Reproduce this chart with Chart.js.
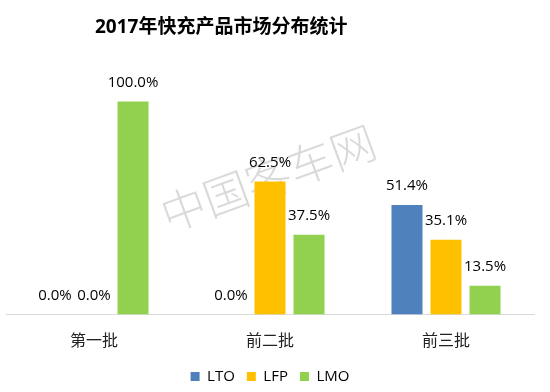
<!DOCTYPE html>
<html>
<head>
  <title>2017年快充产品市场分布统计</title>
  <script src="https://cdn.jsdelivr.net/npm/chart.js"></script>
  <style>
    body { margin: 0; background: #fff; }
    #chartContainer { width: 550px; height: 392px; }
  </style>
</head>
<body>
  <div id="chartContainer">
    <canvas id="myChart" width="550" height="392"></canvas>
  </div>

  <script>
    // 数据
    const categories = ['第一批', '前二批', '前三批'];
    const seriesNames = ['LTO', 'LFP', 'LMO'];
    const ltoValues = [0, 0, 51.4];
    const lfpValues = [0, 62.5, 35.1];
    const lmoValues = [100, 37.5, 13.5];
    const seriesColors = ['#4F81BD', '#FFC000', '#92D050'];

    const titleText = '2017年快充产品市场分布统计';
    const watermarkText = '中国客车网';
    const fontFamily = '"Open Sans", "Noto Sans CJK SC", sans-serif';

    // 标题 + 水印
    const titlePlugin = {
      id: 'titlePlugin',
      beforeDatasetsDraw(chart) {
        const c = chart.ctx;
        c.save();
        c.translate(268, 178);
        c.rotate(-20 * Math.PI / 180);
        c.font = '300 45px "Noto Sans CJK SC", sans-serif';
        c.fillStyle = 'rgba(0,0,0,0.15)';
        c.textAlign = 'center';
        c.textBaseline = 'middle';
        c.fillText(watermarkText, 0, 0);
        c.restore();
      },
      afterDraw(chart) {
        const c = chart.ctx;
        c.save();
        c.font = 'bold 19px ' + fontFamily;
        c.fillStyle = '#000';
        c.textAlign = 'left';
        c.textBaseline = 'middle';
        c.fillText(titleText, 95, 28);
        c.restore();
      }
    };

    // 数据标签
    const labelPlugin = {
      id: 'labelPlugin',
      afterDatasetsDraw(chart) {
        const c = chart.ctx;
        c.save();
        c.font = '15px ' + fontFamily;
        c.fillStyle = '#000';
        c.textAlign = 'center';
        c.textBaseline = 'middle';
        chart.data.datasets.forEach((ds, i) => {
          const meta = chart.getDatasetMeta(i);
          meta.data.forEach((bar, j) => {
            c.fillText(ds.data[j].toFixed(1) + '%', bar.x, bar.y - 19);
          });
        });
        c.restore();
      }
    };

    const ctx = document.getElementById('myChart').getContext('2d');
    const myChart = new Chart(ctx, {
      type: 'bar',
      data: {
        labels: categories,
        datasets: [
          { label: seriesNames[0], data: ltoValues, backgroundColor: seriesColors[0] },
          { label: seriesNames[1], data: lfpValues, backgroundColor: seriesColors[1] },
          { label: seriesNames[2], data: lmoValues, backgroundColor: seriesColors[2] }
        ]
      },
      options: {
        responsive: false,
        animation: false,
        datasets: {
          bar: {
            categoryPercentage: 0.665,
            barPercentage: 0.795
          }
        },
        layout: {
          padding: { left: 6, right: 16, top: 59, bottom: 5 }
        },
        plugins: {
          title: { display: false },
          tooltip: { enabled: false },
          legend: {
            position: 'bottom',
            maxHeight: 30,
            labels: {
              boxWidth: 9,
              boxHeight: 9,
              padding: 12,
              color: '#000',
              font: { size: 15, family: fontFamily }
            }
          }
        },
        scales: {
          x: {
            grid: { display: false, drawTicks: false },
            border: { display: true, color: '#d9d9d9', width: 1 },
            ticks: {
              padding: 15,
              color: '#222',
              font: { size: 16, family: fontFamily, lineHeight: 1.53 }
            },
            afterFit(scale) {
              scale.height = 42.5;
            }
          },
          y: {
            display: false,
            min: 0,
            max: 120
          }
        }
      },
      plugins: [titlePlugin, labelPlugin]
    });
  </script>
</body>
</html>
